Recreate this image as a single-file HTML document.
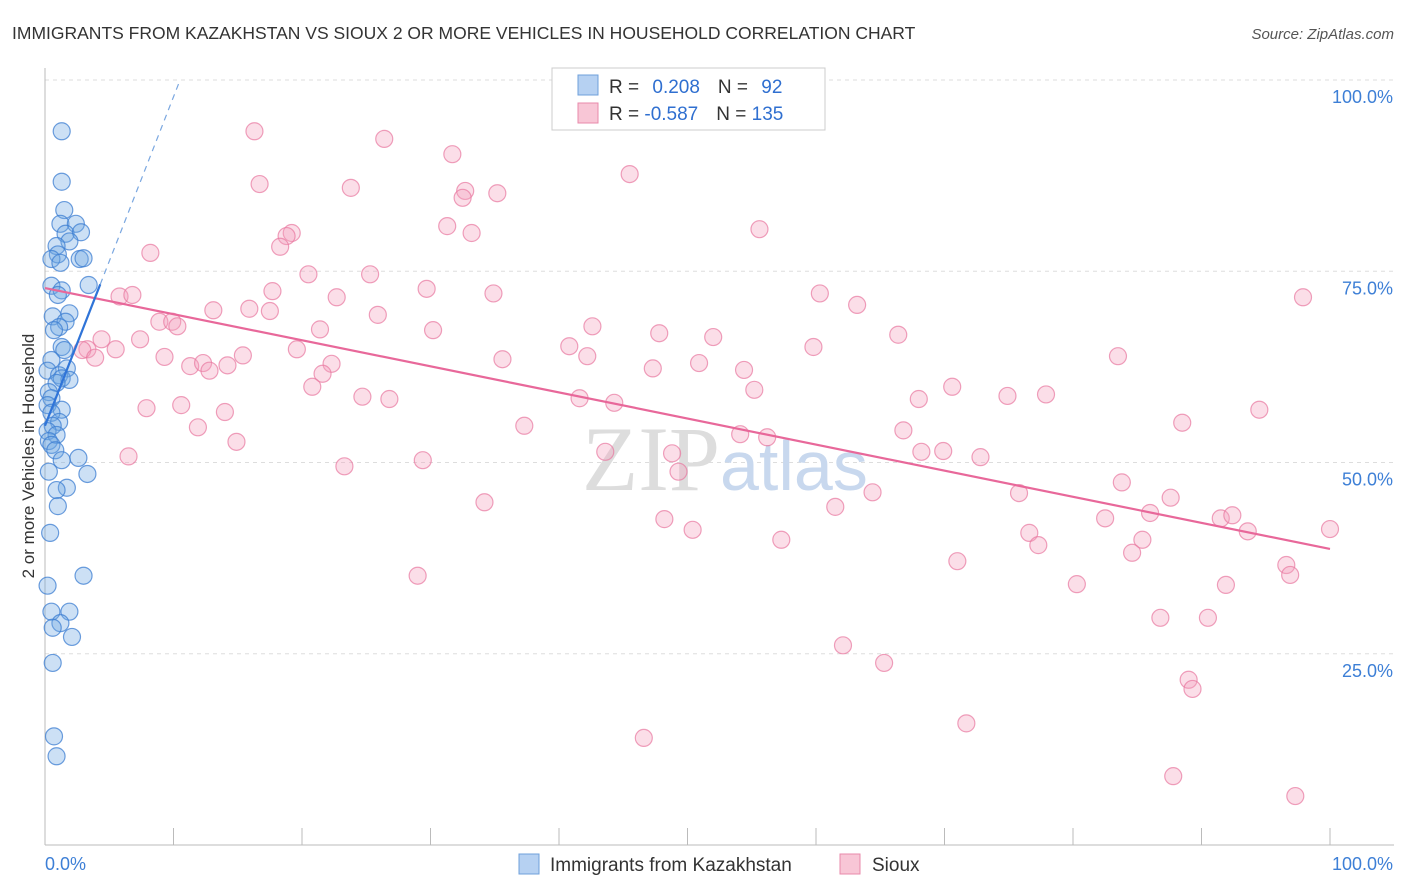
<!DOCTYPE html>
<html><head><meta charset="utf-8"><style>
body{margin:0;background:#fff;font-family:"Liberation Sans",sans-serif}
svg{display:block}
</style></head><body>
<svg width="1406" height="892" xmlns="http://www.w3.org/2000/svg" id="chart">
<text x="12" y="39" font-size="17.5" fill="#333">IMMIGRANTS FROM KAZAKHSTAN VS SIOUX 2 OR MORE VEHICLES IN HOUSEHOLD CORRELATION CHART</text>
<text x="1394" y="39" font-size="15" fill="#555" font-style="italic" text-anchor="end">Source: ZipAtlas.com</text>
<g id="grid"></g>
<g id="axes"></g>
<text x="720" y="490" font-size="92" fill="#ddd" text-anchor="end" font-family="Liberation Serif,serif">ZIP</text>
<text x="720" y="490" font-size="70" fill="#c8d8ee">atlas</text>
<g id="pts"></g>
<g id="lines"></g>
<text transform="translate(34,456) rotate(-90)" font-size="17" fill="#333" text-anchor="middle">2 or more Vehicles in Household</text>
<g>
<rect x="552" y="68" width="273" height="62" fill="#fff" stroke="#ccc"/>
<rect x="578" y="75" width="20" height="20" fill="#b6d1f2" stroke="#6fa0db"/>
<rect x="578" y="103" width="20" height="20" fill="#f8c6d6" stroke="#e88aab"/>
<text x="609" y="93" font-size="19" fill="#333">R = <tspan fill="#2f6fd0" dx="8">0.208</tspan><tspan dx="18" fill="#333">N = </tspan><tspan fill="#2f6fd0" dx="8">92</tspan></text>
<text x="609" y="120" font-size="19" fill="#333">R = <tspan fill="#2f6fd0">-0.587</tspan><tspan dx="18" fill="#333">N = </tspan><tspan fill="#2f6fd0">135</tspan></text>
</g>
<g>
<rect x="519" y="854" width="20" height="20" fill="#b6d1f2" stroke="#6fa0db"/>
<text x="550" y="871" font-size="19" fill="#333">Immigrants from Kazakhstan</text>
<rect x="840" y="854" width="20" height="20" fill="#f8c6d6" stroke="#e88aab"/>
<text x="872" y="871" font-size="19" fill="#333">Sioux</text>
</g>
</svg>
<script>
const blueX=[1.3,1.3,1.5,1.2,2.4,1.6,2.8,1.9,0.9,1.0,0.5,1.2,2.7,3.0,3.4,0.5,1.3,1.0,0.6,1.9,1.6,1.1,0.7,1.3,1.5,0.5,1.7,0.2,1.1,1.3,1.9,0.9,0.3,0.5,0.2,1.3,0.5,1.1,0.6,0.2,0.9,0.3,0.5,0.8,1.3,2.6,3.3,0.3,1.7,0.9,1.0,0.4,3.0,0.2,1.9,0.5,1.2,0.6,2.1,0.6,0.7,0.9];
const blueY=[93.3,86.7,83.0,81.2,81.2,79.9,80.1,78.9,78.3,77.2,76.6,76.1,76.6,76.7,73.2,73.1,72.5,71.9,69.1,69.5,68.4,67.7,67.3,65.1,64.7,63.4,62.3,62.0,61.4,61.0,60.8,60.4,59.2,58.4,57.5,56.9,56.5,55.3,54.8,54.1,53.6,52.8,52.3,51.6,50.3,50.6,48.5,48.8,46.7,46.4,44.3,40.8,35.2,33.9,30.5,30.5,29.0,28.4,27.2,23.8,14.2,11.6];
const pinkX=[16.3,26.4,31.7,45.5,16.7,23.8,32.7,35.2,32.5,31.3,33.2,55.6,19.2,18.8,18.3,8.2,20.5,25.3,29.7,17.7,34.9,5.8,6.8,22.7,60.3,97.9,63.2,13.1,15.9,17.5,25.9,8.9,9.9,10.3,21.4,30.2,42.6,47.8,52.0,66.4,7.4,4.4,5.5,3.3,2.9,19.6,15.4,40.8,42.2,59.8,83.5,9.3,3.9,11.3,12.3,12.8,14.2,22.3,21.6,47.3,50.9,54.4,35.6,20.8,55.2,70.6,74.9,77.9,68.0,41.6,44.3,24.7,26.8,7.9,10.6,14.0,11.9,14.9,37.3,88.5,54.1,56.2,94.5,66.8,6.5,43.6,48.8,68.2,69.9,72.8,23.3,29.4,49.3,83.8,64.4,75.8,34.2,87.6,86.0,82.5,48.2,61.5,91.5,92.4,93.6,100,50.4,76.6,77.3,57.3,85.4,84.6,71.0,96.6,96.9,80.3,91.9,29.0,86.8,90.5,62.1,65.3,89.0,89.3,71.7,46.6,87.8,97.3];
const pinkY=[93.3,92.3,90.3,87.7,86.4,85.9,85.5,85.2,84.6,80.9,80.0,80.5,80.0,79.6,78.2,77.4,74.6,74.6,72.7,72.4,72.1,71.7,71.9,71.6,72.1,71.6,70.6,69.9,70.1,69.8,69.3,68.4,68.4,67.8,67.4,67.3,67.8,66.9,66.4,66.7,66.1,66.1,64.8,64.8,64.7,64.8,64.0,65.2,63.9,65.1,63.9,63.8,63.7,62.6,63.0,62.0,62.7,62.9,61.6,62.3,63.0,62.1,63.5,59.9,59.5,59.9,58.7,58.9,58.3,58.4,57.8,58.6,58.3,57.1,57.5,56.6,54.6,52.7,54.8,55.2,53.7,53.3,56.9,54.2,50.8,51.4,51.2,51.4,51.5,50.7,49.5,50.3,48.8,47.4,46.1,46.0,44.8,45.4,43.4,42.7,42.6,44.2,42.7,43.1,41.0,41.3,41.2,40.8,39.2,39.9,39.9,38.2,37.1,36.6,35.3,34.1,34.0,35.2,29.7,29.7,26.1,23.8,21.6,20.4,15.9,14.0,9.0,6.4];
const blueTrend=[54.8,4.3];   // intercept, slope
const pinkTrend=[72.8,-0.341];
const yTicks=[25,50,75,100];
const yTickLabels=["25.0%","50.0%","75.0%","100.0%"];
const xTicks=[0,10,20,30,40,50,60,70,80,90,100];

const NS="http://www.w3.org/2000/svg";
const sx=v=>45+v*12.85, sy=v=>845-v*7.65;
function mk(t,a,p){const e=document.createElementNS(NS,t);for(const k in a)e.setAttribute(k,a[k]);p.appendChild(e);return e;}
const grid=document.getElementById('grid'),axes=document.getElementById('axes'),pts=document.getElementById('pts'),lines=document.getElementById('lines');
yTicks.forEach((v,i)=>{
 const l=mk('line',{x1:45,x2:1394,y1:sy(v),y2:sy(v),stroke:'#ddd','stroke-dasharray':'4,4'},grid);
 
 
 const t=mk('text',{x:1393,y:sy(v)+23,'font-size':18,fill:'#3d7fd6','text-anchor':'end'},axes);
 t.textContent=yTickLabels[i];
 
 
});
mk('line',{x1:45,x2:45,y1:68,y2:845,stroke:'#bbb'},axes);
mk('line',{x1:45,x2:1394,y1:845,y2:845,stroke:'#bbb'},axes);
xTicks.forEach(v=>{
 const l=mk('line',{x1:sx(v),x2:sx(v),y1:828,y2:845,stroke:'#bbb'},axes);
 
 
});
const x0=mk('text',{x:45,y:870,'font-size':18,fill:'#3d7fd6'},axes);x0.textContent='0.0%';


const x1=mk('text',{x:1393,y:870,'font-size':18,fill:'#3d7fd6','text-anchor':'end'},axes);x1.textContent='100.0%';


pinkX.forEach((x,i)=>{
 const c=mk('circle',{cx:sx(x),cy:sy(pinkY[i]),r:8.5,fill:'rgba(244,160,190,0.35)',stroke:'rgba(232,120,160,0.7)','stroke-width':1.2},pts);
 
 
});
blueX.forEach((x,i)=>{
 const c=mk('circle',{cx:sx(x),cy:sy(blueY[i]),r:8.5,fill:'rgba(110,165,225,0.35)',stroke:'rgba(60,125,210,0.75)','stroke-width':1.2},pts);
 
 
});
const pl=mk('line',{x1:sx(0),y1:sy(pinkTrend[0]),x2:sx(100),y2:sy(pinkTrend[0]+pinkTrend[1]*100),stroke:'#e8689a','stroke-width':2.2},lines);


const bl=mk('line',{x1:sx(0),y1:sy(blueTrend[0]),x2:sx(4.3),y2:sy(blueTrend[0]+blueTrend[1]*4.3),stroke:'#2f74d8','stroke-width':2.2},lines);


const xe=(100-blueTrend[0])/blueTrend[1];
const bd=mk('line',{x1:sx(4.3),y1:sy(blueTrend[0]+blueTrend[1]*4.3),x2:sx(xe),y2:sy(100),stroke:'#7aa7e0','stroke-width':1.2,'stroke-dasharray':'6,5'},lines);


</script>
</body></html>
